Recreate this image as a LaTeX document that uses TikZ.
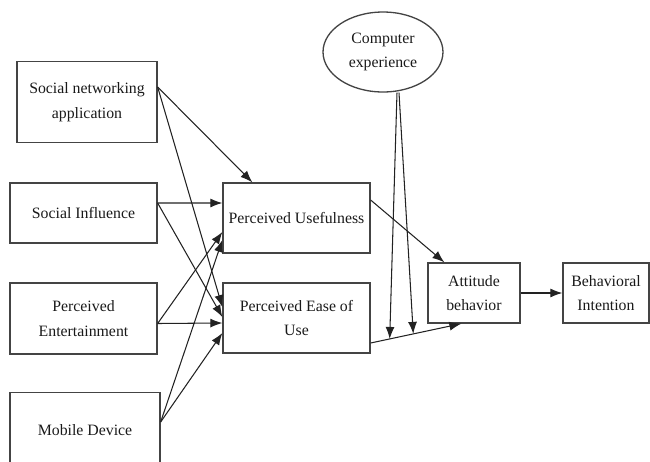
\documentclass[tikz,border=0pt]{standalone}
\usepackage{fontspec}
\setmainfont{Liberation Serif}
\usetikzlibrary{arrows.meta,positioning,shapes.geometric,calc}
\definecolor{LineGray}{HTML}{222222}
\definecolor{EdgeGray}{HTML}{444444}
\begin{document}
\begin{tikzpicture}[x=0.02cm,y=-0.02cm,
  every node/.style={font=\fontsize{9}{14}\selectfont,text=black!90},
  box/.style={draw=EdgeGray,line width=0.75pt,align=center,inner sep=1pt},
  link/.style={draw=LineGray,line width=0.6pt,-{Latex[length=2.4mm,width=1.8mm]}}]
\useasboundingbox (0,0) rectangle (650,461);
\clip (0,0) rectangle (650,461);
\node[box,minimum width=2.8cm,minimum height=1.62cm] (sna) at (87,102) {Social networking\\application};
\node[box,minimum width=2.94cm,minimum height=1.2cm] (si) at (83.5,213) {Social Influence};
\node[box,minimum width=2.94cm,minimum height=1.42cm] (pe) at (83.5,318.5) {Perceived\\Entertainment};
\node[box,minimum width=3cm,minimum height=1.5cm] (md) at (85,430) {Mobile Device};
\node[box,minimum width=2.94cm,minimum height=1.4cm] (pu) at (296.5,218) {Perceived Usefulness};
\node[box,minimum width=2.94cm,minimum height=1.4cm] (peou) at (296.5,318) {Perceived Ease of\\Use};
\node[draw=EdgeGray,line width=0.75pt,ellipse,align=center,minimum width=2.4cm,minimum height=1.6cm,inner sep=0pt] (ce) at (383,52) {Computer\\experience};
\node[box,minimum width=1.84cm,minimum height=1.2cm] (att) at (474,293) {Attitude\\behavior};
\node[box,minimum width=1.72cm,minimum height=1.2cm] (bi) at (606,293) {Behavioral\\Intention};
% left column to PU / PEOU
\draw[link] ([yshift=0.3cm]sna.east) -- ([xshift=0.6cm]pu.north west);
\draw[link] ([yshift=0.3cm]sna.east) -- ([yshift=0.22cm]peou.west);
\draw[link] ([yshift=0.2cm]si.east) -- ([yshift=0.3cm]pu.west);
\draw[link] ([yshift=0.2cm]si.east) -- ([yshift=0.02cm]peou.west);
\draw[link] ([yshift=-0.1cm]pe.east) -- ([yshift=-0.28cm]pu.west);
\draw[link] ([yshift=-0.1cm]pe.east) -- ([yshift=-0.1cm]peou.west);
\draw[link] ([yshift=0.16cm]md.east) -- ([yshift=-0.44cm]pu.west);
\draw[link] ([yshift=0.16cm]md.east) -- ([yshift=-0.3cm]peou.west);
% to attitude and intention
\draw[link] ([yshift=0.36cm]pu.east) -- ([xshift=0.34cm]att.north west);
\draw[link] ([yshift=-0.5cm]peou.east) -- coordinate[pos=0.21] (m1) coordinate[pos=0.47] (m2) ([xshift=0.68cm]att.south west);
\draw[link] (att.east) -- (bi.west);
% moderating lines
\draw[link] ([xshift=0.28cm]ce.south) -- (m1);
\draw[link] ([xshift=0.32cm]ce.south) -- (m2);
\end{tikzpicture}
\end{document}
